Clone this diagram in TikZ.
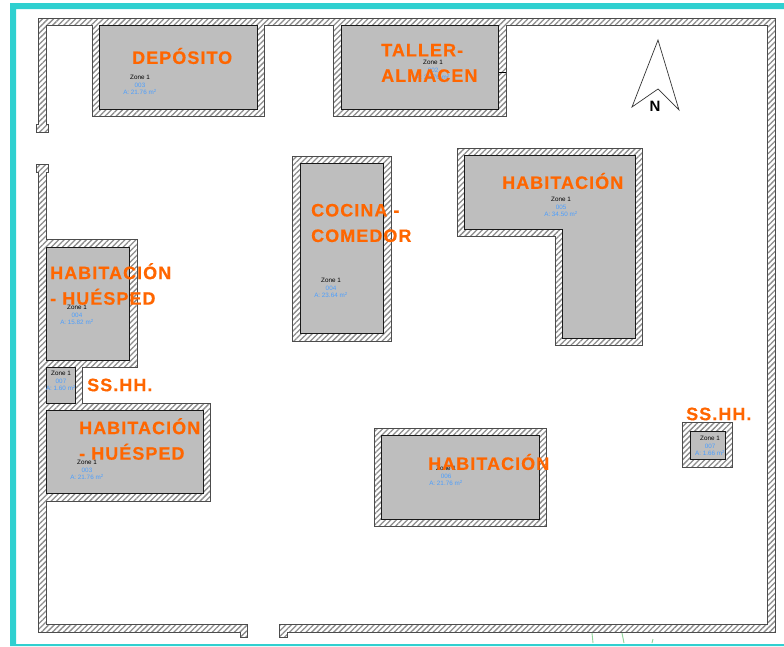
\documentclass[tikz,border=0pt]{standalone}
\usepackage{fontspec}
\usetikzlibrary{patterns.meta}
\setmainfont{Liberation Sans}
\newfontfamily\roomfont[LetterSpace=5.8,FakeBold=0.4]{Liberation Sans Bold}
\definecolor{planframe}{HTML}{2FD0D0}
\definecolor{planorange}{HTML}{FF6600}
\definecolor{plangray}{HTML}{BEBEBE}
\definecolor{planblue}{HTML}{4A9EFF}
\definecolor{plangreen}{HTML}{8FD39A}
\tikzset{
  wall/.style={draw=black!70, line width=0.9pt, pattern={Lines[angle=45,distance=3.9pt,line width=1.3pt]}, pattern color=black!45},
  room/.style={draw=black!90, line width=1pt, fill=plangray},
  roomname/.style={text=planorange, font=\roomfont\fontsize{18}{25.5}\selectfont, align=left, anchor=west, inner sep=0pt},
  zonetag/.style={text=planblue, font=\fontsize{6.3}{7.6}\selectfont, align=center, inner sep=0pt},
}
\newcommand{\zonetext}[2]{\textcolor{black}{Zone 1}\\#1\\A: #2 m\textsuperscript{2}}
\begin{document}
\begin{tikzpicture}[x=1pt,y=-1pt]
  \useasboundingbox (0, 0) rectangle (784, 646);
  \fill [white] (0, 0) rectangle (784, 646);

  % Frame
  \fill [planframe] (10, 3) -- (784, 3) -- (784, 9) -- (16, 9) -- (16, 644) -- (784, 644) --
    (784, 646) -- (10, 646) -- cycle;

  % Walls
  \filldraw [wall] (36, 132) -- (48, 132) -- (48, 124) -- (46, 124) -- (46, 25) -- (92, 25) --
    (92, 116) -- (264, 116) -- (264, 25) -- (333, 25) -- (333, 116) -- (506, 116) -- (506, 25) --
    (767, 25) -- (767, 624) -- (279, 624) -- (279, 637) -- (287, 637) -- (287, 632) -- (775, 632) --
    (775, 18) -- (38, 18) -- (38, 124) -- (36, 124) -- cycle;
  \filldraw [wall] (36, 164) -- (48, 164) -- (48, 172) -- (46, 172) -- (46, 239) -- (137, 239) --
    (137, 367) -- (82, 367) -- (82, 403) -- (210, 403) -- (210, 501) -- (46, 501) -- (46, 624) --
    (247, 624) -- (247, 637) -- (240, 637) -- (240, 632) -- (38, 632) -- (38, 172) -- (36, 172) -- cycle;
  \filldraw [wall] (292, 156) rectangle (391, 341);
  \filldraw [wall] (457, 148) -- (642, 148) -- (642, 345) -- (555, 345) -- (555, 236) -- (457, 236) -- cycle;
  \filldraw [wall] (374, 428) rectangle (546, 526);
  \filldraw [wall] (682, 422) rectangle (732, 467);
  \draw [black, line width=0.9pt] (498, 72) -- (506, 72);

  % Rooms
  \filldraw [room] (99, 25) rectangle (257, 109);
  \filldraw [room] (341, 25) rectangle (498, 109);
  \filldraw [room] (300, 163) rectangle (383, 333);
  \filldraw [room] (464, 155) -- (635, 155) -- (635, 338) -- (562, 338) -- (562, 229) -- (464, 229) -- cycle;
  \filldraw [room] (46, 247) rectangle (129, 360);
  \filldraw [room] (46, 367) rectangle (75, 403);
  \filldraw [room] (46, 410) rectangle (203, 493);
  \filldraw [room] (381, 435) rectangle (539, 519);
  \filldraw [room] (690, 431) rectangle (725, 459);

  % Zones
  \node [zonetag] (zonadeposito) at (140, 85) {\zonetext{003}{21.76}};
  \node [zonetag] (zonataller) at (433, 70) {\zonetext{002}{21.76}};
  \node [zonetag] (zonacocina) at (331, 288) {\zonetext{004}{23.64}};
  \node [zonetag] (zonahabitacion) at (561, 207) {\zonetext{005}{34.50}};
  \node [zonetag] (zonahuespeda) at (77, 315) {\zonetext{004}{15.82}};
  \node [zonetag] (zonabanoa) at (61, 381) {\zonetext{007}{1.60}};
  \node [zonetag] (zonahuespedb) at (87, 470) {\zonetext{003}{21.76}};
  \node [zonetag] (zonahabitacionb) at (446, 476) {\zonetext{006}{21.76}};
  \node [zonetag] (zonabanob) at (710, 446) {\zonetext{007}{1.66}};

  % Names
  \node [roomname] (deposito) at (132, 56) {DEPÓSITO};
  \node [roomname] (taller) at (381, 63) {TALLER-\\ALMACEN};
  \node [roomname] (cocina) at (311, 223) {COCINA -\\COMEDOR};
  \node [roomname] (habitacion) at (502, 181) {HABITACIÓN};
  \node [roomname] (huespeda) at (50, 284) {HABITACIÓN\\- HUÉSPED};
  \node [roomname] (banoa) at (87, 385) {SS.HH.};
  \node [roomname] (huespedb) at (79, 439) {HABITACIÓN\\- HUÉSPED};
  \node [roomname] (habitacionb) at (428, 462) {HABITACIÓN};
  \node [roomname] (banob) at (686, 414) {SS.HH.};

  % North
  \draw [black!80, line width=0.7pt, fill=white] (658, 40) -- (679, 110) -- (658, 89) -- (632, 107) -- cycle;
  \node [font=\fontspec{Liberation Sans Bold}\fontsize{15}{15}\selectfont, inner sep=0pt] (norte) at (655, 106) {N};

  % Green marks
  \draw [plangreen, line width=0.9pt] (592, 633) -- (593, 643);
  \draw [plangreen, line width=0.9pt] (622, 633) -- (624, 643);
  \draw [plangreen, line width=0.9pt] (653, 639) -- (652, 643);
\end{tikzpicture}
\end{document}
